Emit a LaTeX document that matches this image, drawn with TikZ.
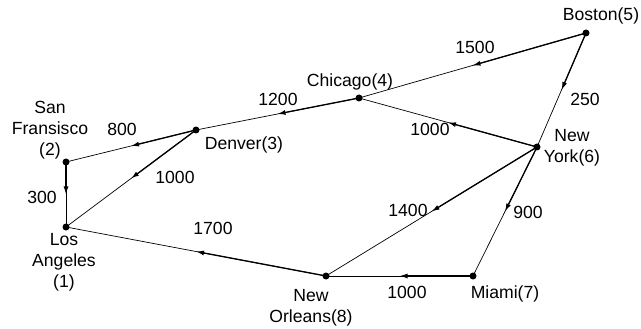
\documentclass[tikz,border=0pt]{standalone}
\usepackage{fontspec}
\setmainfont{Liberation Sans}
\usetikzlibrary{calc,arrows.meta}
\begin{document}
\begin{tikzpicture}[x=1pt,y=-1pt,
  city/.style={circle,fill=black,inner sep=0pt,minimum size=7pt},
  lbl/.style={font=\fontsize{17.6}{21}\selectfont,inner sep=0pt,align=center},
  thinline/.style={line width=0.7pt},
  boldhalf/.style={line width=1.3pt,-{Latex[length=8pt,width=5pt]}}]
\useasboundingbox (0,0) rectangle (641,329);
\node[city] (bos) at (586,33) {};
\node[city] (chi) at (359,98) {};
\node[city] (den) at (196,130) {};
\node[city] (sf) at (66,162) {};
\node[city] (la) at (66,227) {};
\node[city] (ny) at (537,147) {};
\node[city] (mia) at (473,276) {};
\node[city] (no) at (326,276) {};
\foreach \a/\b in {bos/chi,bos/ny,chi/den,ny/chi,den/sf,den/la,sf/la,ny/no,ny/mia,mia/no,no/la}{
  \draw[thinline] (\a.center) -- (\b.center);
  \draw[boldhalf] (\a.center) -- ($(\a.center)!0.5!(\b.center)$);
}
% city labels
\node[lbl] (tbos) at (601,16) {Boston(5)};
\node[lbl] (tchi) at (350,82) {Chicago(4)};
\node[lbl] (tden) at (244,145) {Denver(3)};
\node[lbl] (tsf) at (50,130) {San\\Fransisco\\(2)};
\node[lbl] (tla) at (64,262) {Los\\Angeles\\(1)};
\node[lbl] (tny) at (572,148) {New\\York(6)};
\node[lbl] (tmia) at (505,294) {Miami(7)};
\node[lbl] (tno) at (311,308) {New\\Orleans(8)};
% distances
\node[lbl] (d1) at (475,47) {1500};
\node[lbl] (d2) at (278,99) {1200};
\node[lbl] (d3) at (122,129) {800};
\node[lbl] (d4) at (175,177) {1000};
\node[lbl] (d5) at (42,197) {300};
\node[lbl] (d6) at (213,228) {1700};
\node[lbl] (d7) at (430,129) {1000};
\node[lbl] (d8) at (585,99) {250};
\node[lbl] (d9) at (408,210) {1400};
\node[lbl] (d10) at (528,212) {900};
\node[lbl] (d11) at (407,292) {1000};
\end{tikzpicture}
\end{document}
